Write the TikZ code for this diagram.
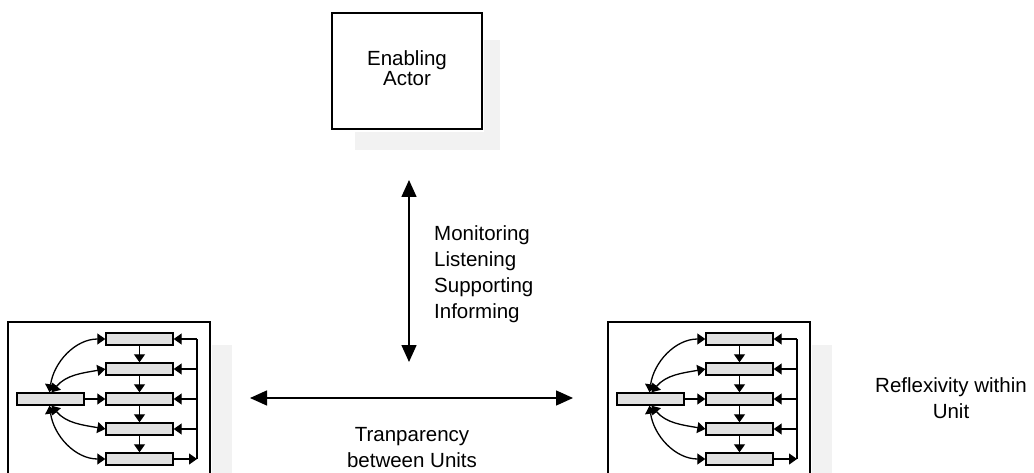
\documentclass[tikz,border=0pt]{standalone}
\usepackage{fontspec}
\setmainfont{Liberation Sans}
\usetikzlibrary{arrows.meta}

\begin{document}
\begin{tikzpicture}[x=1pt,y=-1pt,
  lbl/.style={font=\fontsize{20.5}{26}\selectfont, inner sep=0pt},
  boxlbl/.style={font=\fontsize{20.5}{20}\selectfont, inner sep=0pt, align=center},
  bigtip/.tip={Triangle[length=17pt,width=15pt]},
  smalltip/.tip={Triangle[length=8pt,width=11pt]},
  bigarrow/.style={line width=1.5pt, bigtip-bigtip},
  actorbox/.style={draw, line width=1.9pt, minimum width=150pt, minimum height=116pt, inner sep=0pt},
  unitframe/.style={draw, line width=1.5pt, minimum width=202pt, minimum height=160pt, inner sep=0pt},
  cell/.style={draw, line width=1.4pt, fill=black!12, minimum width=67pt, minimum height=12pt, inner sep=0pt},
  flow/.style={line width=1.3pt, -smalltip},
  twoway/.style={line width=1.3pt, smalltip-smalltip},
  plain/.style={line width=1.3pt},
  haze/.style={fill=black!5}
]
\clip (0,0) rectangle (1034,473);

% enabling actor with its faint shadow
\fill[haze] (484,40) rectangle (500,150);
\fill[haze] (355,132) rectangle (500,150);
\node[actorbox, fill=white] (actor) at (407,71) {};
\node[boxlbl] (actorlbl) at (407,68) {Enabling\\Actor};

% two identical units
\foreach \ox/\p in {0/L,600/R}{
\begin{scope}[shift={(\ox,0)}, name prefix=\p-]
  \fill[haze] (212,345) rectangle (232,480);
  \node[unitframe] (frame) at (109,402) {};
  \node[cell] (src) at (50.5,399) {};
  \foreach \i/\yy in {1/339,2/369,3/399,4/429,5/459}{
    \node[cell] (s\i) at (139.5,\yy) {};
    \coordinate (fb\i) at (197,\yy);
  }
  \foreach \i/\j in {1/2,2/3,3/4,4/5}
    \draw[flow] (s\i) -- (s\j);
  \draw[flow] (src) -- (s3);
  \draw[flow] (s5) -- (fb5);
  \draw[plain] (fb5) -- (fb1);
  \foreach \i in {1,2,3,4}
    \draw[flow] (fb\i) -- (s\i);
  \draw[twoway] ([xshift=-1pt]src.north) to[out=82,in=180] (s1.west);
  \draw[twoway] ([xshift=1pt]src.north) to[out=50,in=190] (s2.west);
  \draw[twoway] ([xshift=1pt]src.south) to[out=-50,in=170] (s4.west);
  \draw[twoway] ([xshift=-1pt]src.south) to[out=-82,in=180] (s5.west);
\end{scope}}

% relations
\coordinate (mtop) at (409,180);
\coordinate (mbot) at (409,362);
\draw[bigarrow] (mtop) -- (mbot);
\coordinate (tleft) at (250,398);
\coordinate (tright) at (573,398);
\draw[bigarrow] (tleft) -- (tright);

\node[lbl, anchor=north west, align=left] (roles) at (434,225) {Monitoring\\Listening\\Supporting\\Informing};
\node[lbl, align=center] (transp) at (412,447.5) {Tranparency\\between Units};
\node[lbl, align=center] (reflex) at (951,398) {Reflexivity within\\Unit};
\end{tikzpicture}
\end{document}
